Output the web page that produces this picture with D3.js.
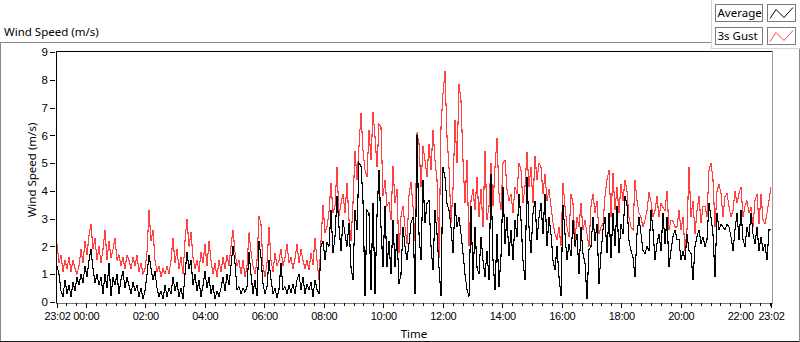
<!DOCTYPE html>
<html><head><meta charset="utf-8">
<script src="https://cdn.jsdelivr.net/npm/d3@7"></script>
<style>
html,body{margin:0;padding:0;background:#fff;}
svg{display:block;font-family:"Segoe UI","Noto Sans",sans-serif;}
</style></head><body>
<svg id="chart" width="800" height="342"></svg>
<script>
// ---------- data ----------
const startTime = "2000-01-01T23:02:00";
const endTime = "2000-01-02T23:02:00";
const seriesNames = ["Average", "3s Gust"];
const seriesColors = ["#000000", "#ff4040"];

const averageValues = [
1.3,1.0,0.4,0.2,0.8,0.3,0.6,0.2,0.7,0.4,
0.9,0.6,1.0,0.7,1.3,0.9,1.5,1.9,1.2,0.7,
1.0,0.6,0.9,0.3,1.0,0.5,1.4,0.2,0.9,0.6,
1.0,0.3,0.8,1.1,0.5,0.9,0.6,0.3,0.7,0.4,
0.6,0.2,0.5,0.1,0.4,1.0,1.7,1.2,0.8,1.1,
0.5,0.2,0.4,0.1,0.6,0.2,0.5,0.3,0.9,0.4,
0.7,0.2,0.5,0.1,1.0,1.8,1.2,1.5,0.6,1.0,
0.4,0.8,0.2,0.6,1.1,0.5,0.9,0.3,0.6,0.1,
0.4,0.2,0.5,0.9,0.4,1.0,0.6,1.3,2.0,1.4,
0.45,0.55,0.3,0.5,0.35,0.55,1.8,1.0,0.3,0.8,
0.2,2.2,1.6,0.65,0.3,0.55,1.5,0.8,0.3,0.5,
0.15,0.45,1.4,0.45,0.55,0.3,0.6,0.35,0.65,0.3,
0.8,1.0,0.45,0.9,0.3,0.65,0.45,0.7,0.2,0.8,
0.45,0.3,2.0,2.2,1.5,2.15,2.0,3.3,1.75,2.35,
3.8,2.7,1.85,2.95,2.45,2.0,2.85,1.25,0.8,3.3,
2.6,5.0,4.9,3.65,0.2,3.3,3.2,0.45,3.55,0.3,
3.1,4.75,2.7,1.25,3.45,1.25,2.2,1.0,2.95,1.25,
2.45,0.65,1.0,2.7,2.0,1.5,2.1,2.85,3.05,0.3,
6.0,2.45,1.5,4.4,2.85,3.55,3.65,2.0,1.15,3.3,
2.45,1.25,0.2,4.85,4.5,3.55,3.3,2.7,1.75,3.55,
2.7,3.05,2.45,1.75,1.0,0.45,0.2,3.45,0.8,2.7,
1.25,1.0,2.35,1.5,0.9,1.85,0.8,4.6,1.5,0.45,
2.45,0.55,1.65,4.15,2.1,3.05,1.65,2.6,1.5,2.95,
2.35,3.9,2.95,1.5,0.8,4.5,2.7,1.75,3.2,3.65,
2.25,3.05,3.55,2.45,3.9,2.0,3.05,2.45,1.5,1.15,
2.0,0.9,0.2,3.5,2.45,1.5,2.1,1.65,2.95,2.0,
2.45,1.0,2.7,1.75,1.4,0.1,1.9,2.0,3.05,2.2,
2.8,0.65,1.75,2.6,3.05,1.75,3.2,1.6,3.2,2.0,
3.45,1.75,2.8,2.45,3.8,3.5,2.2,1.85,1.6,0.9,
2.45,3.05,2.45,1.85,1.75,2.0,1.85,3.3,2.6,1.5,
2.1,2.45,1.85,3.2,2.1,3.05,1.25,1.85,2.35,2.6,
2.25,2.25,1.5,1.85,1.5,2.45,1.85,1.75,0.8,2.0,
2.35,2.6,2.1,2.35,2.0,2.25,3.55,3.05,2.45,0.9,
3.2,2.6,2.8,2.7,2.6,2.8,2.7,2.35,1.85,2.6,
3.2,2.25,3.3,2.25,2.0,2.7,2.35,3.2,2.45,2.1,
2.7,1.85,2.35,1.85,2.1,1.5,2.6,2.6
];

const gustValues = [
2.1,1.4,1.7,1.1,1.5,1.2,1.6,1.1,1.5,1.2,
1.0,1.3,1.9,1.4,2.2,1.7,2.4,2.8,1.9,2.3,
1.5,2.0,1.4,1.9,2.6,1.5,2.2,1.6,1.9,2.3,
1.5,1.7,1.3,1.6,1.2,1.7,1.5,1.2,1.6,1.3,
1.7,1.1,1.4,1.0,1.2,1.8,3.3,2.2,2.6,1.5,
1.1,1.3,0.9,1.2,1.0,1.3,1.0,1.5,2.3,1.4,
1.9,1.2,1.6,1.0,2.2,3.0,2.0,2.5,1.6,1.2,
1.5,1.1,1.8,1.4,2.1,1.3,2.2,1.5,1.0,1.4,
0.9,1.5,1.1,1.6,1.2,1.7,1.3,2.0,2.6,1.8,
1.3,1.5,1.0,1.5,0.9,1.3,2.5,1.8,1.3,1.0,
1.5,3.1,2.8,1.3,0.9,1.4,2.7,1.5,1.1,1.75,
1.3,1.5,1.9,1.3,1.6,2.1,1.4,1.6,1.2,1.55,
2.1,1.4,1.9,1.5,1.2,1.5,1.15,1.75,1.35,2.3,
1.5,0.8,2.2,3.5,2.5,2.7,3.25,4.3,3.2,3.45,
4.85,3.1,3.55,3.9,3.2,4.3,2.95,2.2,3.55,5.45,
4.4,5.6,6.8,5.45,4.75,4.5,6.2,5.1,6.85,5.95,
4.85,6.4,6.3,3.8,4.4,3.45,3.6,2.95,4.9,3.55,
4.05,1.75,3.1,3.45,2.7,2.1,3.85,4.3,3.45,2.2,
6.1,5.7,4.15,5.6,5.1,4.5,5.7,4.75,6.2,5.1,
4.4,1.6,6.3,7.5,8.3,5.95,4.85,2.85,4.05,6.55,
5.0,7.85,7.25,5.1,3.55,5.1,2.0,3.65,4.05,3.3,
4.5,3.05,4.05,2.7,5.45,2.95,3.45,5.0,3.45,4.85,
5.9,3.9,3.3,5.0,5.1,4.05,3.65,3.9,3.2,4.15,
3.9,5.0,4.75,3.55,4.15,5.4,4.15,4.85,3.55,5.25,
4.4,5.0,4.85,3.9,4.6,3.65,4.05,3.45,2.85,2.45,
2.25,2.7,2.0,4.3,3.45,2.7,2.35,3.9,3.55,2.25,
3.05,2.7,3.55,2.6,2.95,2.45,2.0,3.45,3.9,3.2,
3.65,2.45,2.7,2.8,3.8,4.4,4.75,3.05,4.65,3.3,
4.15,3.2,4.25,3.65,4.4,4.0,3.05,2.7,2.6,4.4,
3.65,3.2,3.05,2.7,2.95,3.3,3.95,3.6,3.05,3.3,
3.8,3.05,3.55,3.4,3.3,4.0,2.6,2.95,2.9,2.7,
2.7,3.3,2.6,3.05,1.85,2.6,4.85,3.05,3.65,2.45,
3.3,3.8,2.85,3.45,3.45,3.05,4.75,5.0,4.4,2.7,
4.0,4.25,3.9,3.05,3.8,3.9,3.45,3.05,3.3,4.0,
3.55,3.9,4.15,3.05,3.45,3.65,3.2,3.4,2.7,3.65,
3.9,2.8,3.9,2.95,2.8,3.2,3.65,4.15
];

const yTickValues = [0,1,2,3,4,5,6,7,8,9];
const xTickLabels = ["23:02","00:00","02:00","04:00","06:00","08:00","10:00",
  "12:00","14:00","16:00","18:00","20:00","22:00","23:02"];
const chartTitle = "Wind Speed (m/s)";
const yAxisTitle = "Wind Speed (m/s)";
const xAxisTitle = "Time";

// ---------- build ----------
const t0 = new Date(startTime), t1 = new Date(endTime);
const n = averageValues.length;
const stepMs = (t1 - t0) / (n - 1);
const times = averageValues.map((_, i) => new Date(+t0 + i * stepMs));
const series = [
  {name: seriesNames[0], color: seriesColors[0], values: averageValues},
  {name: seriesNames[1], color: seriesColors[1], values: gustValues}
];

const svg = d3.select("#chart");
const plot = {left: 57, right: 771, top: 52, bottom: 302};
const FS = 11.5, TFS = 11;

const x = d3.scaleTime().domain([t0, t1]).range([plot.left, plot.right]);
const y = d3.scaleLinear().domain([0, 9]).range([plot.bottom, plot.top]);

// outer frame
const frame = svg.append("g").attr("shape-rendering", "crispEdges");
frame.append("line").attr("x1", 0).attr("x2", 711).attr("y1", 42.5).attr("y2", 42.5).attr("stroke", "#8a8a8a");
frame.append("line").attr("x1", 0.5).attr("x2", 0.5).attr("y1", 42).attr("y2", 342).attr("stroke", "#8a8a8a");
frame.append("line").attr("x1", 0).attr("x2", 800).attr("y1", 341.5).attr("y2", 341.5).attr("stroke", "#1a1a1a");
frame.append("line").attr("x1", 799.5).attr("x2", 799.5).attr("y1", 49).attr("y2", 342).attr("stroke", "#8a8a8a");
frame.append("line").attr("x1", 711.5).attr("x2", 711.5).attr("y1", 0).attr("y2", 49).attr("stroke", "#d4d4d4");
frame.append("line").attr("x1", 711).attr("x2", 800).attr("y1", 48.5).attr("y2", 48.5).attr("stroke", "#d4d4d4");

// title
svg.append("text").attr("x", 4).attr("y", 36).attr("font-size", FS).attr("fill", "#000").text(chartTitle);

// clip
svg.append("clipPath").attr("id", "clip").append("rect")
  .attr("x", plot.left).attr("y", plot.top - 1).attr("width", plot.right - plot.left + 1).attr("height", plot.bottom - plot.top + 2);

const line = d3.line().x((d, i) => x(times[i])).y(d => y(d));
const gLines = svg.append("g").attr("clip-path", "url(#clip)");
[series[1], series[0]].forEach(s => {
  gLines.append("path").datum(s.values)
    .attr("d", line).attr("fill", "none").attr("stroke", s.color)
    .attr("stroke-width", 1.1).attr("shape-rendering", "crispEdges");
});

// plot borders
const bd = svg.append("g").attr("shape-rendering", "crispEdges");
bd.append("line").attr("x1", 56).attr("x2", 773).attr("y1", 51.5).attr("y2", 51.5).attr("stroke", "#000");
bd.append("line").attr("x1", 56.5).attr("x2", 56.5).attr("y1", 51).attr("y2", 304).attr("stroke", "#000");
bd.append("line").attr("x1", 56).attr("x2", 773).attr("y1", 303.5).attr("y2", 303.5).attr("stroke", "#7a7a7a");
bd.append("line").attr("x1", 772.5).attr("x2", 772.5).attr("y1", 51).attr("y2", 304).attr("stroke", "#9a9a9a");

// y axis
const yAxis = svg.append("g").attr("transform", "translate(55,0)")
  .call(d3.axisLeft(y).tickValues(yTickValues).tickSize(5).tickPadding(2).tickFormat(d3.format("d")));
yAxis.select(".domain").remove();
yAxis.selectAll("line").attr("stroke", "#000").attr("shape-rendering", "crispEdges");
yAxis.selectAll("text").attr("font-size", TFS + 0.5).attr("fill", "#000").attr("font-family", null);

// x axis
const day0 = t0, day1 = new Date(+t0 + 86400000);
const xTickDates = xTickLabels.map((lab, i) => {
  const [hh, mm] = lab.split(":").map(Number);
  const base = i === 0 ? day0 : day1;
  const d = new Date(base); d.setHours(hh, mm, 0, 0); return d;
});
const minorTicks = d3.timeMinute.every(20).range(t0, t1);
const xMinor = svg.append("g").attr("transform", "translate(0,303)")
  .call(d3.axisBottom(x).tickValues(minorTicks).tickSize(3).tickFormat(""));
xMinor.select(".domain").remove();
xMinor.selectAll("line").attr("stroke", "#000").attr("shape-rendering", "crispEdges");

const xAxis = svg.append("g").attr("transform", "translate(0,303)")
  .call(d3.axisBottom(x).tickValues(xTickDates).tickSize(5).tickPadding(4).tickFormat((d, i) => xTickLabels[i]));
xAxis.select(".domain").remove();
xAxis.selectAll("line").attr("stroke", "#000").attr("shape-rendering", "crispEdges");
xAxis.selectAll("text").attr("font-size", TFS).attr("letter-spacing", "-0.3px")
  .attr("fill", "#000").attr("font-family", null);

// axis titles
svg.append("text").attr("x", (plot.left + plot.right) / 2).attr("y", 338)
  .attr("text-anchor", "middle").attr("font-size", FS).attr("fill", "#000").text(xAxisTitle);
svg.append("text").attr("transform", "translate(35.5," + ((plot.top + plot.bottom) / 2 - 7) + ") rotate(-90)")
  .attr("text-anchor", "middle").attr("font-size", FS).attr("fill", "#000").text(yAxisTitle);

// legend
const leg = svg.append("g");
series.forEach((s, i) => {
  const yy = 4.5 + i * 23;
  leg.append("rect").attr("x", 715.5).attr("y", yy).attr("width", 47).attr("height", 17)
    .attr("fill", "#fff").attr("stroke", "#7a7a7a").attr("shape-rendering", "crispEdges");
  leg.append("text").attr("x", 717.5).attr("y", yy + 12.5).attr("font-size", FS).attr("fill", "#000").text(s.name);
  leg.append("rect").attr("x", 767.5).attr("y", yy).attr("width", 28).attr("height", 17)
    .attr("fill", "#fff").attr("stroke", "#7a7a7a").attr("shape-rendering", "crispEdges");
  leg.append("path")
    .attr("d", d3.line()([[770, yy + 14], [776, yy + 5], [784, yy + 13], [793, yy + 3]]))
    .attr("fill", "none").attr("stroke", s.color).attr("stroke-width", 1);
});
</script>
</body></html>
